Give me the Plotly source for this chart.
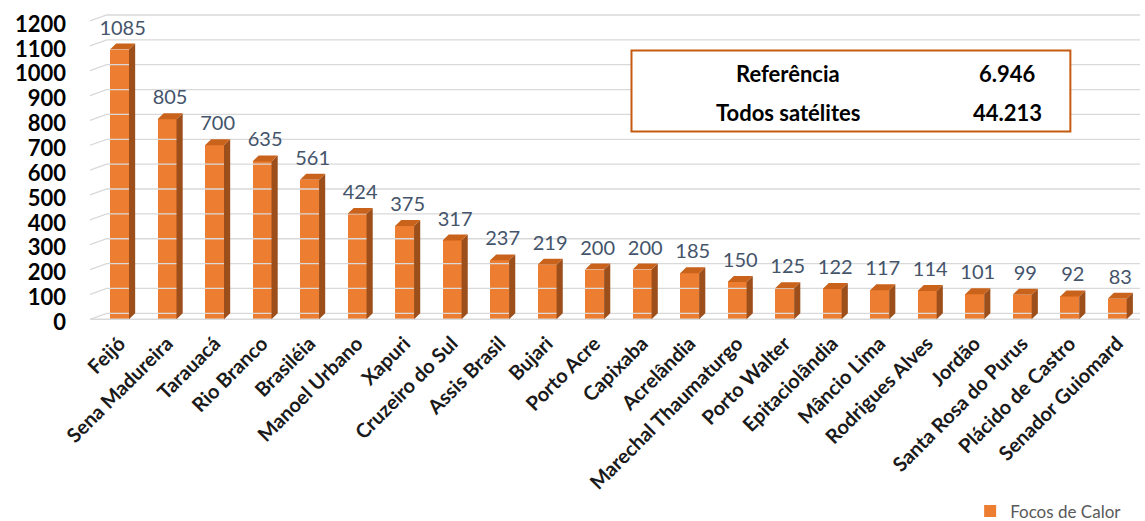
import plotly.graph_objects as go

municipios = ["Feijó", "Sena Madureira", "Tarauacá", "Rio Branco", "Brasiléia",
              "Manoel Urbano", "Xapuri", "Cruzeiro do Sul", "Assis Brasil", "Bujari",
              "Porto Acre", "Capixaba", "Acrelândia", "Marechal Thaumaturgo",
              "Porto Walter", "Epitaciolândia", "Mâncio Lima", "Rodrigues Alves",
              "Jordão", "Santa Rosa do Purus", "Plácido de Castro", "Senador Guiomard"]
focos = [1085, 805, 700, 635, 561, 424, 375, 317, 237, 219, 200, 200, 185, 150,
         125, 122, 117, 114, 101, 99, 92, 83]
y_ticks = list(range(0, 1201, 100))
resumo_nomes = ["Referência", "Todos satélites"]
resumo_valores = ["6.946", "44.213"]

LARANJA = "#ED7D31"
TOPO = "#C9631C"
LADO = "#9C4E1B"
FONTE = "Lato"

idx = list(range(len(municipios)))
w = 0.4    # largura da face frontal
dx = 0.13  # profundidade 3d (eixo x)
dy = 24    # profundidade 3d (eixo y)

fig = go.Figure()

# linhas de grade "3d"
gx, gy = [], []
for t in y_ticks:
    gx += [-0.62, -0.27, 21.6, None]
    gy += [t, t + dy, t + dy, None]
gx += [-0.62, 21.6]
gy += [0, 0]
fig.add_trace(go.Scatter(x=gx, y=gy, mode="lines", line=dict(color="#D9D9D9", width=1.3),
                         hoverinfo="skip", showlegend=False))

fig.add_trace(go.Bar(x=idx, y=focos, width=w, marker=dict(color=LARANJA, line=dict(width=0)),
                     name="Focos de Calor", showlegend=True))

# faces laterais e superiores
sx, sy, tx, ty = [], [], [], []
for i, v in zip(idx, focos):
    r = i + w / 2
    l = i - w / 2
    sx += [r, r + dx, r + dx, r, r, None]
    sy += [0, dy, v + dy, v, 0, None]
    tx += [l, r, r + dx, l + dx, l, None]
    ty += [v, v, v + dy, v + dy, v, None]
fig.add_trace(go.Scatter(x=sx, y=sy, mode="lines", fill="toself", fillcolor=LADO,
                         line=dict(width=0, color=LADO), hoverinfo="skip", showlegend=False))
fig.add_trace(go.Scatter(x=tx, y=ty, mode="lines", fill="toself", fillcolor=TOPO,
                         line=dict(width=0, color=TOPO), hoverinfo="skip", showlegend=False))

# rótulos dos valores
fig.add_trace(go.Scatter(x=[i + dx / 2 for i in idx], y=[v + dy + 16 for v in focos],
                         mode="text", text=[str(v) for v in focos], textposition="top center",
                         textfont=dict(family=FONTE, size=20, color="#44546A"),
                         cliponaxis=False, hoverinfo="skip", showlegend=False))

fig.update_xaxes(range=[-0.726, 21.48], tickmode="array", tickvals=idx, ticktext=municipios,
                 tickangle=-45, tickfont=dict(family=FONTE, size=20, color="#1a1a1a", weight="bold"),
                 showgrid=False, zeroline=False, showline=False, ticks="", ticklabelstandoff=4)
# rótulos do eixo y ficam um pouco abaixo do plano frontal, como no original
fig.update_yaxes(range=[-15, 1232], tickmode="array", tickvals=[t - 12 for t in y_ticks],
                 ticktext=[str(t) for t in y_ticks],
                 tickfont=dict(family=FONTE, size=22, color="#000000", weight="bold"),
                 showgrid=False, zeroline=False, showline=False, ticklabelstandoff=18)

# quadro com totais
fig.add_shape(type="rect", xref="paper", yref="paper", x0=0.518, x1=0.934, y0=0.618, y1=0.879,
              line=dict(color="#C55A11", width=2), fillcolor="white", layer="above")
for k, (nome, val) in enumerate(zip(resumo_nomes, resumo_valores)):
    yy = 0.806 - k * 0.128
    fig.add_annotation(x=0.666, y=yy, xref="paper", yref="paper", text=nome, showarrow=False,
                       xanchor="center", yanchor="middle",
                       font=dict(family=FONTE, size=22, color="#000000", weight="bold"))
    fig.add_annotation(x=0.874, y=yy, xref="paper", yref="paper", text=val, showarrow=False,
                       xanchor="center", yanchor="middle",
                       font=dict(family=FONTE, size=22, color="#000000", weight="bold"))

fig.update_layout(
    width=1145, height=521,
    margin=dict(l=85, r=5, t=13, b=198, autoexpand=False),
    plot_bgcolor="white", paper_bgcolor="white",
    bargap=0,
    legend=dict(x=0.839, y=-0.55, xanchor="left", yanchor="top", orientation="h",
                font=dict(family=FONTE, size=17, color="#595959"), itemwidth=30),
)

fig.write_html("out.html", config={"displayModeBar": False},
               post_script="document.body.style.margin='0';")
